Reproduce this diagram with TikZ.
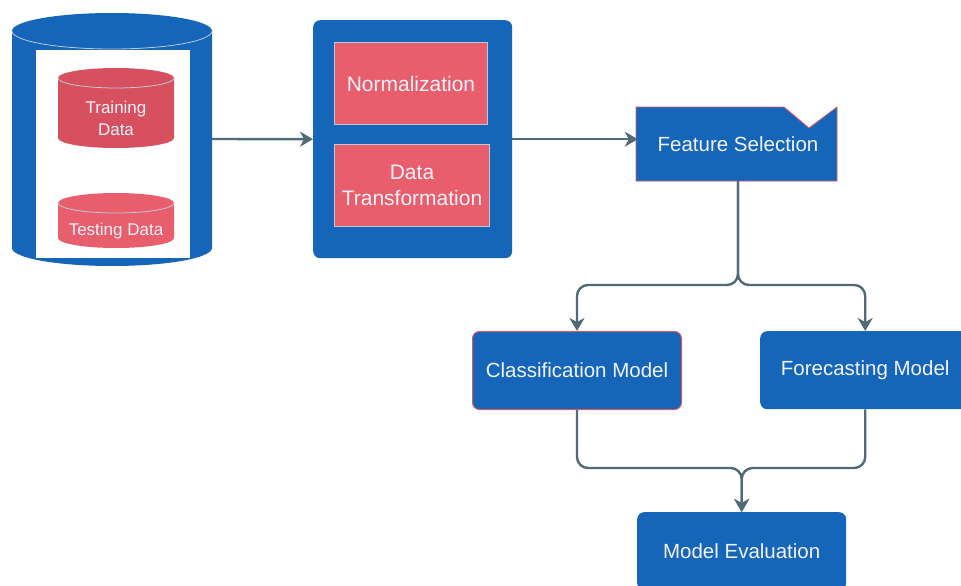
\documentclass[tikz,border=0pt]{standalone}
\usepackage{fontspec}
\setmainfont{Liberation Sans}
\usetikzlibrary{arrows.meta}
\definecolor{bl}{RGB}{21,101,184}
\definecolor{pk}{RGB}{232,94,108}
\definecolor{pkd}{RGB}{214,80,95}
\definecolor{ln}{RGB}{80,106,118}
\definecolor{txt}{RGB}{242,242,250}
\definecolor{rim}{RGB}{190,200,215}
\definecolor{redb}{RGB}{222,88,100}
\begin{document}
\begin{tikzpicture}[x=1pt,y=-1pt,
  conn/.style={draw=ln, line width=2.4pt, rounded corners=11pt},
  arr/.style={-{Stealth[length=13pt,width=15pt,inset=4pt]}},
  bigbox/.style={fill=bl, rounded corners=7pt, anchor=north west, inner sep=0pt},
  pinkbox/.style={fill=pk, draw=rim, line width=1pt, anchor=north west, inner sep=0pt,
    text=txt, align=center, font=\fontsize{21}{26}\selectfont},
  bluebox/.style={fill=bl, rounded corners=7pt, anchor=north west, inner sep=0pt,
    text=txt, align=center, font=\fontsize{20.5}{25}\selectfont},
  cyltext/.style={text=txt, align=center, font=\fontsize{17}{22}\selectfont}
]
\useasboundingbox (0,0) rectangle (961,586);
\clip (0,0) rectangle (961,586);
\fill[white] (0,0) rectangle (961,586);

% big database cylinder
\fill[bl] (12,31) -- (12,248) arc[start angle=180,end angle=360,x radius=100pt,y radius=18pt]
  -- (212,31) arc[start angle=0,end angle=180,x radius=100pt,y radius=18pt] -- cycle;
\draw[rim, line width=0.8pt] (12,31) arc[start angle=180,end angle=360,x radius=100pt,y radius=18pt];
\fill[white] (36,50) rectangle (190,258);
\node[minimum width=200pt, minimum height=200pt, inner sep=0pt] (db) at (112,139) {};

% training data cylinder
\fill[pkd] (58,78) -- (58,138) arc[start angle=180,end angle=360,x radius=58pt,y radius=10pt]
  -- (174,78) arc[start angle=0,end angle=180,x radius=58pt,y radius=10pt] -- cycle;
\draw[rim, line width=0.8pt] (58,78) arc[start angle=180,end angle=360,x radius=58pt,y radius=10pt];
\node[cyltext] (train) at (116,118) {Training\\Data};

% testing data cylinder
\fill[pk] (58,203) -- (58,238) arc[start angle=180,end angle=360,x radius=58pt,y radius=10pt]
  -- (174,203) arc[start angle=0,end angle=180,x radius=58pt,y radius=10pt] -- cycle;
\draw[rim, line width=0.8pt] (58,203) arc[start angle=180,end angle=360,x radius=58pt,y radius=10pt];
\node[cyltext] (test) at (116,231) {Testing Data};

% preprocessing box
\node[bigbox, minimum width=199pt, minimum height=238pt] (proc) at (313,20) {};
\node[pinkbox, minimum width=153pt, minimum height=82pt] (norm) at (334,42) {Normalization};
\node[pinkbox, minimum width=155pt, minimum height=82pt] (trans) at (334,144) {Data\\Transformation};

% feature selection
\fill[bl, draw=redb, line width=0.8pt] (636,107) -- (784,107) -- (809,128) -- (837,107)
  -- (837,181) -- (636,181) -- cycle;
\node[inner sep=0pt, minimum width=200pt, minimum height=74pt, text=txt,
  font=\fontsize{20.5}{25}\selectfont] (fs) at (738,144) {Feature Selection};

% models
\node[bluebox, draw=redb, line width=1pt, minimum width=209pt, minimum height=78pt] (cls) at (472,331) {Classification Model};
\node[bluebox, minimum width=210pt, minimum height=78pt] (fc) at (760,331) {Forecasting Model};
\node[bluebox, minimum width=209pt, minimum height=78pt] (me) at (637,512) {Model Evaluation};

% connectors
\coordinate (hy) at (0,285);
\coordinate (my) at (0,468);
\draw[conn, arr] (db.east) -- (proc.west);
\draw[conn, arr] (proc.east) -- (proc.east -| fs.west);
\draw[conn, arr] (fs.south) |- (cls.north |- hy) -- (cls.north);
\draw[conn, arr] (fs.south) |- (fc.north |- hy) -- (fc.north);
\draw[conn, arr] (cls.south) |- (me.north |- my) -- (me.north);
\draw[conn, arr] (fc.south) |- (me.north |- my) -- (me.north);
\end{tikzpicture}
\end{document}
